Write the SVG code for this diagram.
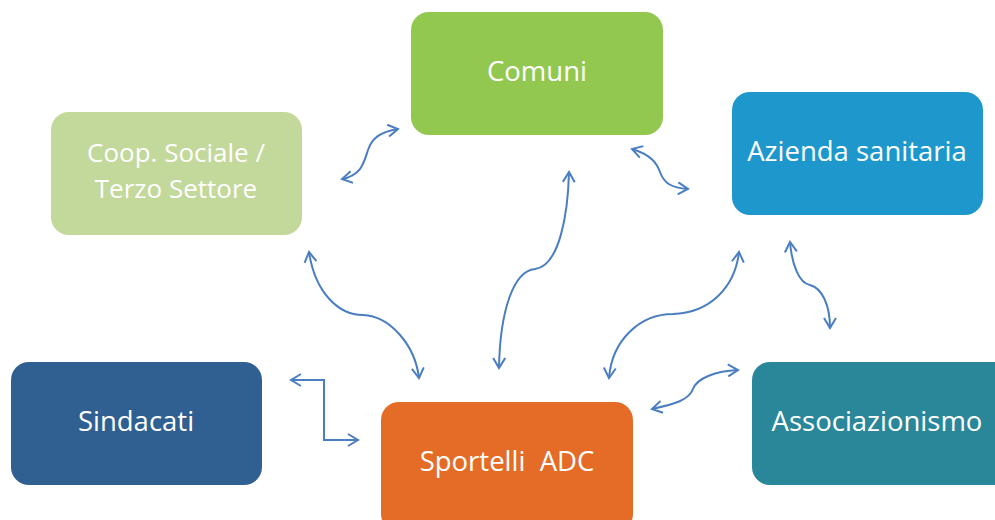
<svg xmlns="http://www.w3.org/2000/svg" width="995" height="520" viewBox="0 0 995 520">
<style>
.lbl{font-family:"Open Sans","Liberation Sans",sans-serif;font-size:27.5px;fill:#ffffff;text-anchor:middle;white-space:pre}
.sm{font-size:26px}
.con{fill:none;stroke:#4A7EC1;stroke-width:2;marker-start:url(#ah);marker-end:url(#ah)}
</style>
<defs>
<marker id="ah" markerUnits="userSpaceOnUse" markerWidth="14" markerHeight="14" refX="11" refY="7" orient="auto-start-reverse" viewBox="0 0 14 14">
<path d="M1,1 L11,7 L1,13" fill="none" stroke="#4A7EC1" stroke-width="2"/>
</marker>
</defs>
<rect width="995" height="520" fill="#ffffff"/>
<g id="comuni"><rect x="411" y="12" width="252" height="123" rx="18" fill="#92C84F"/><text class="lbl" x="537" y="81">Comuni</text></g>
<g id="azienda"><rect x="732" y="92" width="251" height="123" rx="18" fill="#1E98CC"/><text class="lbl" x="857" y="161">Azienda sanitaria</text></g>
<g id="coop"><rect x="51" y="112" width="251" height="123" rx="18" fill="#C3D89B"/><text class="lbl sm" x="176" y="162">Coop. Sociale /</text><text class="lbl sm" x="176" y="198">Terzo Settore</text></g>
<g id="sindacati"><rect x="11" y="362" width="251" height="123" rx="18" fill="#305F91"/><text class="lbl" x="136" y="431">Sindacati</text></g>
<g id="sportelli"><rect x="381" y="402" width="252" height="130" rx="18" fill="#E46C26"/><text class="lbl" x="507" y="471">Sportelli  ADC</text></g>
<g id="associazionismo"><rect x="752" y="362" width="260" height="123" rx="18" fill="#2A8799"/><text class="lbl" x="877" y="431">Associazionismo</text></g>
<g id="connectors">
<path class="con" d="M342,179 C362,175 364,162 368,150 C372,138 380,132 398,129"/>
<path class="con" d="M632,149 C652,155 657,164 660,172 C664,183 671,188 688,189"/>
<path class="con" d="M309,252 C315,292 338,315 363,315 C390,316 415,345 419,378"/>
<path class="con" d="M499,368 C500,312 513,271 535,269 C560,266 568,212 569,172"/>
<path class="con" d="M609,378 C612,340 640,314 673,314 C710,313 735,287 739,252"/>
<path class="con" d="M790,242 C792,265 799,283 810,285 C822,288 830,305 830,328"/>
<path class="con" d="M652,409 C675,404 689,400 693,389 C697,378 716,371 738,370"/>
<path class="con" d="M291,380 L324,380 L324,440 L358,440"/>
</g>
</svg>
